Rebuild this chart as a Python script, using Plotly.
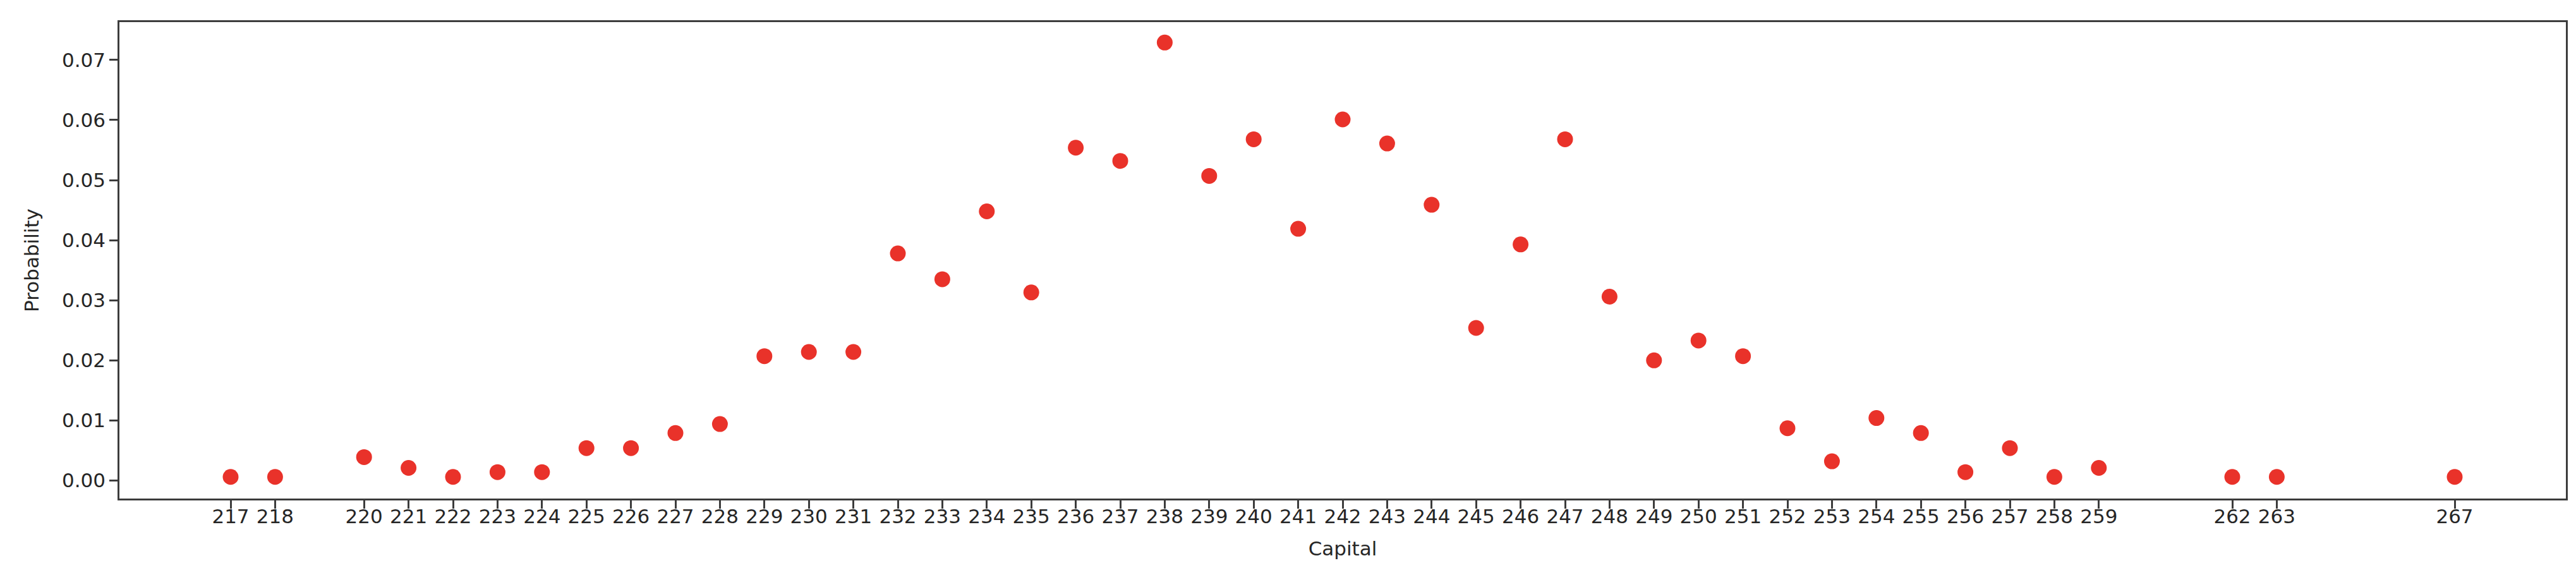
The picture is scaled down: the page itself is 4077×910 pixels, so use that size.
import plotly.graph_objects as go

# capital values seen in the simulation and their estimated probabilities
capital = [217, 218, 220, 221, 222, 223, 224, 225, 226, 227, 228, 229, 230,
           231, 232, 233, 234, 235, 236, 237, 238, 239, 240, 241, 242, 243,
           244, 245, 246, 247, 248, 249, 250, 251, 252, 253, 254, 255, 256,
           257, 258, 259, 262, 263, 267]
probability = [0.0006, 0.0006, 0.0039, 0.0021, 0.0006, 0.0014, 0.0014, 0.0054,
               0.0054, 0.0079, 0.0094, 0.0207, 0.0214, 0.0214, 0.0378, 0.0335,
               0.0448, 0.0313, 0.0554, 0.0532, 0.0729, 0.0507, 0.0568, 0.0419,
               0.0601, 0.0561, 0.0459, 0.0254, 0.0393, 0.0568, 0.0306, 0.0200,
               0.0233, 0.0207, 0.0087, 0.0032, 0.0104, 0.0079, 0.0014, 0.0054,
               0.0006, 0.0021, 0.0006, 0.0006, 0.0006]
y_ticks = [0.0, 0.01, 0.02, 0.03, 0.04, 0.05, 0.06, 0.07]

text_color = "#262626"
frame_color = "#3c3c3c"
font = dict(family="DejaVu Sans", size=31, color=text_color)

fig = go.Figure()
fig.add_trace(go.Scatter(
    x=capital,
    y=probability,
    mode="markers",
    marker=dict(color="#e9322a", size=25, line=dict(width=0)),
    showlegend=False,
))

axis_common = dict(
    showgrid=False,
    zeroline=False,
    showline=True,
    mirror=True,
    linecolor=frame_color,
    linewidth=2.5,
    ticks="outside",
    ticklen=13,
    tickwidth=2.5,
    tickcolor=frame_color,
    tickfont=font,
)

fig.update_layout(
    width=4077,
    height=910,
    margin=dict(l=181, r=24, t=27, b=129),
    paper_bgcolor="white",
    plot_bgcolor="white",
    font=font,
    xaxis=dict(
        axis_common,
        range=[214.5, 269.5],
        tickmode="array",
        tickvals=capital,
        ticktext=[str(c) for c in capital],
        ticklabelstandoff=-14,
        title=dict(text="Capital", font=font, standoff=24),
    ),
    yaxis=dict(
        axis_common,
        range=[-0.003, 0.0763],
        tickmode="array",
        tickvals=y_ticks,
        ticktext=[f"{v:.2f}" for v in y_ticks],
        title=dict(text="Probability", font=font, standoff=28),
    ),
)

fig.write_html("out.html")
